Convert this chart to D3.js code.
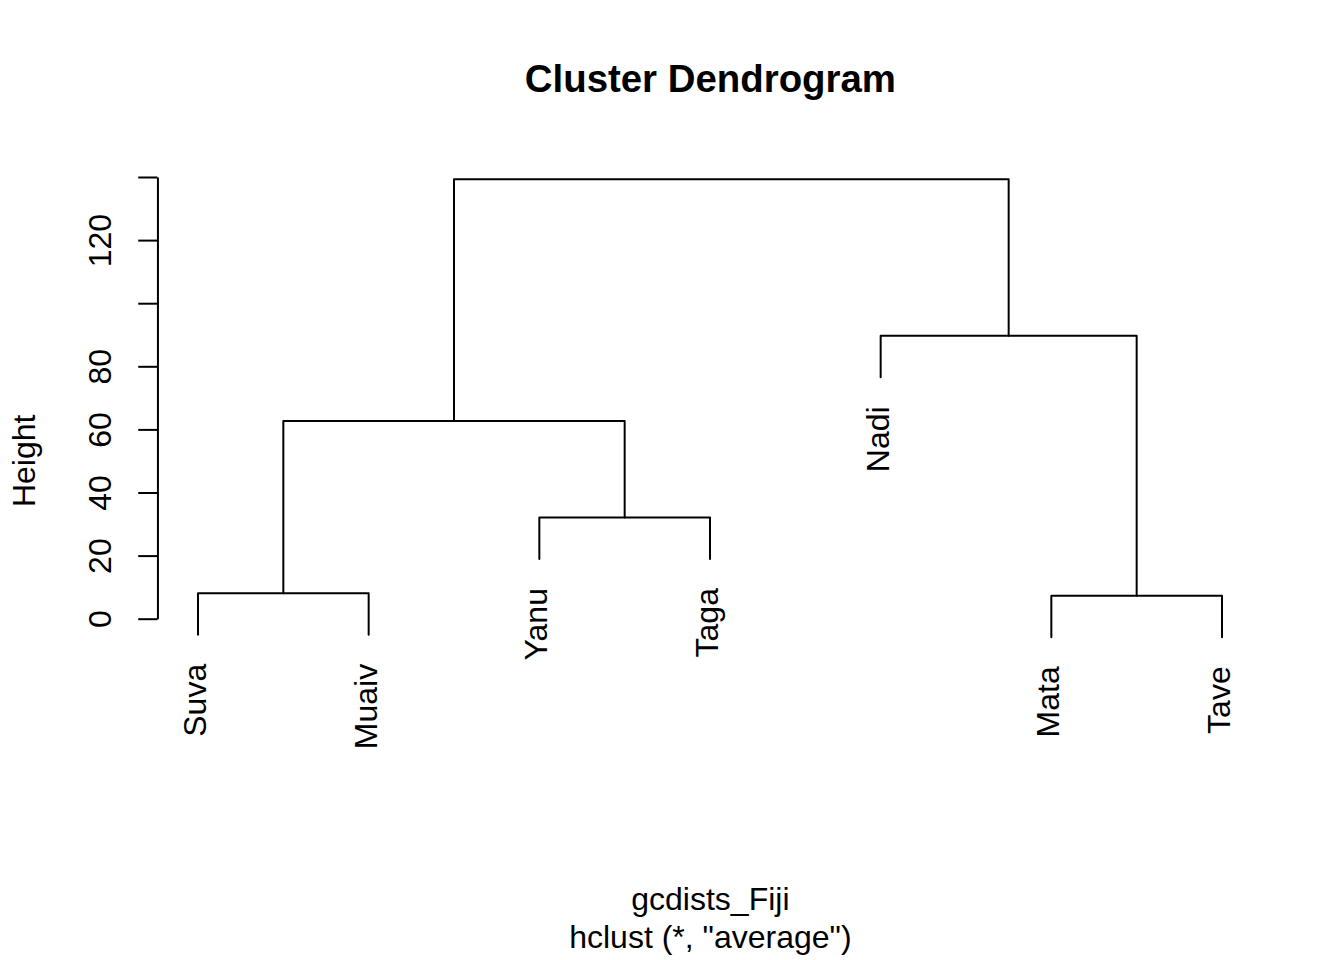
<!DOCTYPE html>
<html>
<head>
<meta charset="utf-8">
<script src="https://cdn.jsdelivr.net/npm/d3@7"></script>
<style>
  html, body { margin: 0; padding: 0; background: #fff; }
  svg { display: block; }
  text { font-family: "Liberation Sans", Arial, Helvetica, sans-serif; fill: #000; }
</style>
</head>
<body>
<script>
// ---- data ----
const leafLabels = ["Suva", "Muaiv", "Yanu", "Taga", "Nadi", "Mata", "Tave"]; // display order
// R-style merge matrix: negative = leaf (1-based index into leafLabels), positive = earlier merge step
const merges = [[-6, -7], [-1, -2], [-3, -4], [2, 3], [-5, 1], [4, 5]];
const mergeHeights = [7.3, 8.1, 32.1, 62.7, 89.7, 139.3];
const tickValues = [0, 20, 40, 60, 80, 100, 120, 140];
const tickLabels = ["0", "20", "40", "60", "80", "", "120", ""];
const titleText = "Cluster Dendrogram";
const xLabel = "gcdists_Fiji";
const subLabel = "hclust (*, \"average\")";
const yLabel = "Height";

// ---- layout ----
const W = 1344, H = 960;
const line = 38.4;                 // one margin line in px
const plotL = 4.1 * line, plotR = W - 2.1 * line;
const plotT = 4.1 * line, plotB = H - 5.1 * line;
const cx = (plotL + plotR) / 2, cy = (plotT + plotB) / 2;

const x = d3.scaleLinear().domain([1, leafLabels.length]).range([198, 1222]);
const y = d3.scaleLinear().domain([0, 140]).range([618.7, 177.0]);

const hang = 0.1 * (d3.max(mergeHeights) - d3.min(mergeHeights));

const svg = d3.select("body").append("svg").attr("width", W).attr("height", H);
svg.append("rect").attr("width", W).attr("height", H).attr("fill", "#fff");

// compute node positions
const nodeX = [], nodeH = [];
function childInfo(id, parentH) {
  if (id < 0) {
    const i = -id;
    return { x: i, top: parentH - hang, leaf: i - 1 };
  }
  return { x: nodeX[id - 1], top: nodeH[id - 1] };
}
const g = svg.append("g")
  .attr("fill", "none").attr("stroke", "#000").attr("stroke-width", 2)
  .attr("stroke-linecap", "round").attr("stroke-linejoin", "round");
const leafEnds = {};
merges.forEach((m, k) => {
  const h = mergeHeights[k];
  const a = childInfo(m[0], h), b = childInfo(m[1], h);
  nodeX[k] = (a.x + b.x) / 2;
  nodeH[k] = h;
  [a, b].forEach(c => { if (c.leaf !== undefined) leafEnds[c.leaf] = c.top; });
  const path = d3.path();
  path.moveTo(x(a.x), y(a.top));
  path.lineTo(x(a.x), y(h));
  path.lineTo(x(b.x), y(h));
  path.lineTo(x(b.x), y(b.top));
  g.append("path").attr("d", path.toString());
});

// leaf labels
svg.append("g").selectAll("text").data(leafLabels).join("text")
  .attr("transform", (d, i) => `translate(${x(i + 1) + 8},${y(leafEnds[i]) + 29}) rotate(-90)`)
  .attr("text-anchor", "end")
  .attr("font-size", 32)
  .text(d => d);

// y axis
const axis = d3.axisLeft(y).tickValues(tickValues).tickSize(19.2).tickSizeOuter(0)
  .tickFormat((d, i) => tickLabels[i]);
const ag = svg.append("g").attr("transform", `translate(${plotL},0)`).call(axis);
ag.select(".domain").attr("stroke", "#000").attr("stroke-width", 2);
ag.selectAll(".tick line").attr("stroke", "#000").attr("stroke-width", 2);
ag.selectAll(".tick text")
  .attr("x", null).attr("dy", null)
  .attr("transform", `translate(${-1.2 * line},0) rotate(-90)`)
  .attr("text-anchor", "middle")
  .attr("font-size", 32)
  .attr("font-family", "Liberation Sans, Arial, Helvetica, sans-serif")
  .attr("fill", "#000");

// titles
svg.append("text").attr("x", cx).attr("y", plotT - 1.7 * line)
  .attr("text-anchor", "middle").attr("font-size", 38.4).attr("font-weight", "bold")
  .text(titleText);
svg.append("text").attr("x", cx).attr("y", plotB + 3.8 * line)
  .attr("text-anchor", "middle").attr("font-size", 32).text(xLabel);
svg.append("text").attr("x", cx).attr("y", plotB + 4.8 * line)
  .attr("text-anchor", "middle").attr("font-size", 32).text(subLabel);
svg.append("text")
  .attr("transform", `translate(${plotL - 3.2 * line},${cy}) rotate(-90)`)
  .attr("text-anchor", "middle").attr("font-size", 32).text(yLabel);
</script>
</body>
</html>
